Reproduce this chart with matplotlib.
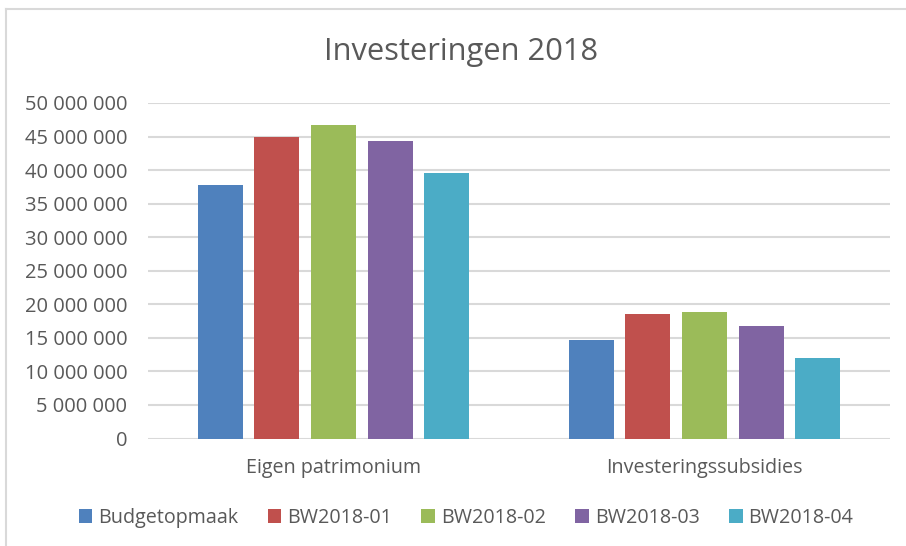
import numpy as np
import matplotlib
matplotlib.use('Agg')
import matplotlib.pyplot as plt
from matplotlib.ticker import FuncFormatter, MultipleLocator
from matplotlib.lines import Line2D
from matplotlib.patches import Patch

categories = ['Eigen patrimonium', 'Investeringssubsidies']
series_names = ['Budgetopmaak', 'BW2018-01', 'BW2018-02', 'BW2018-03', 'BW2018-04']
budgetopmaak = [37_800_000, 14_700_000]
bw2018_01 = [44_900_000, 18_500_000]
bw2018_02 = [46_700_000, 18_800_000]
bw2018_03 = [44_300_000, 16_700_000]
bw2018_04 = [39_600_000, 11_950_000]
colors = ['#4F81BD', '#C0504D', '#9BBB59', '#8064A2', '#4BACC6']

series = [budgetopmaak, bw2018_01, bw2018_02, bw2018_03, bw2018_04]

plt.rcParams['font.family'] = ['Open Sans', 'DejaVu Sans']
text_color = '#595959'
grid_color = '#D9D9D9'

W, H = 906, 546
fig = plt.figure(figsize=(W / 100, H / 100), dpi=100)
ax = fig.add_axes([148 / W, 1 - 438.5 / H, (890 - 148) / W, (438.5 - 103) / H])

x = np.arange(len(categories))
pitch = 0.1526
width = 0.121
for i, (vals, col) in enumerate(zip(series, colors)):
    offs = (i - 2) * pitch
    ax.bar(x + offs, vals, width=width, color=col, label=series_names[i], zorder=3)

ax.set_xlim(-0.5, 1.5)
ax.set_ylim(0, 50_000_000)
ax.yaxis.set_major_locator(MultipleLocator(5_000_000))
ax.yaxis.set_major_formatter(FuncFormatter(lambda v, p: f'{v:,.0f}'.replace(',', ' ')))
ax.grid(axis='y', color=grid_color, linewidth=1.5, zorder=0)
ax.set_xticks(x)
ax.set_xticklabels(categories)
for s in ax.spines.values():
    s.set_visible(False)
ax.tick_params(axis='both', length=0, colors=text_color)
ax.tick_params(axis='y', pad=15, labelsize=14.5)
ax.tick_params(axis='x', pad=14, labelsize=14.2)

fig.text(461 / W, 1 - 52 / H, 'Investeringen 2018', ha='center', va='center',
         fontsize=22.2, color=text_color)

handles = [Patch(facecolor=c, edgecolor='none') for c in colors]
leg = fig.legend(handles, series_names, loc='center', ncol=5,
                 bbox_to_anchor=(466 / W, 1 - 518 / H), frameon=False,
                 fontsize=14.2, handlelength=0.68, handleheight=0.68,
                 handletextpad=0.3, columnspacing=1.5, labelcolor=text_color)

# chart area border (top and left edges visible)
fig.add_artist(Line2D([6 / W, 1], [1 - 9 / H, 1 - 9 / H], transform=fig.transFigure,
                      color=grid_color, linewidth=1.5))
fig.add_artist(Line2D([6 / W, 6 / W], [0, 1 - 9 / H], transform=fig.transFigure,
                      color=grid_color, linewidth=1.5))

fig.savefig('out.png', dpi=100, facecolor='white')
